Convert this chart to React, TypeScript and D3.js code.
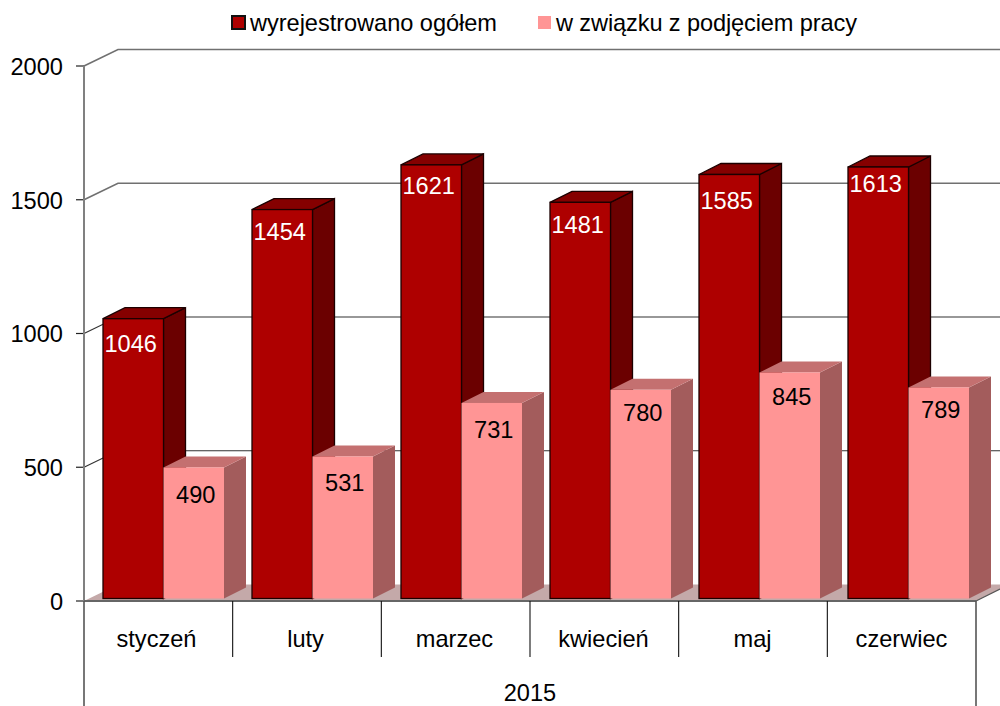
import React from "react";
import { scaleBand, scaleLinear } from "d3";

const width = 1000;
const height = 706;

const months = ["styczeń", "luty", "marzec", "kwiecień", "maj", "czerwiec"];
const seriesNames = ["wyrejestrowano ogółem", "w związku z podjęciem pracy"];
const registered = [1046, 1454, 1621, 1481, 1585, 1613];
const employed = [490, 531, 731, 780, 845, 789];
const yearLabel = "2015";
const yTicks = [0, 500, 1000, 1500, 2000];

// label offsets below the bar top, the original labels are not evenly placed
const registeredLabelDrop = [25, 22, 21, 22, 26, 17];
const employedLabelDrop = [27, 26, 27, 23, 24, 22];

const font = "'Liberation Sans', Arial, sans-serif";
const fontSize = 23.6;

const left = 84;
const right = 976;
const floorY = 601;
const topY = 66;

// depth of the chart box and of the bars
const depthX = 34;
const depthY = -16.5;
const barDepthX = 22;
const barDepthY = -11;
const barInsetY = 2.5;

const xScale = scaleBand<string>().domain(months).range([left, right]);
// the bars run on a slightly wider pitch than the category cells
const barScale = scaleBand<string>().domain(months).range([103, 997]);
const seriesScale = scaleBand<string>().domain(seriesNames).range([0, 121]);
const yScale = scaleLinear().domain([0, 2000]).range([floorY, topY]);

const colors = [
  { front: "#ae0000", side: "#6b0000", top: "#850000", stroke: "#1c0000", strokeWidth: 1.3, label: "#ffffff", labelDx: -2.5 },
  { front: "#ff9595", side: "#a35c5c", top: "#c47070", stroke: "none", strokeWidth: 0, label: "#000000", labelDx: 2 },
];

const Bar = ({ x, value, w, c, drop }) => {
  const y0 = floorY - barInsetY;
  const y1 = yScale(value) - barInsetY;
  const x1 = x + w;
  const line = { stroke: c.stroke, strokeWidth: c.strokeWidth };
  return (
    <g>
      <path
        d={`M${x1},${y1}L${x1 + barDepthX},${y1 + barDepthY}L${x1 + barDepthX},${y0 + barDepthY}L${x1},${y0}Z`}
        fill={c.side}
        {...line}
      />
      <path
        d={`M${x},${y1}L${x + barDepthX},${y1 + barDepthY}L${x1 + barDepthX},${y1 + barDepthY}L${x1},${y1}Z`}
        fill={c.top}
        {...line}
      />
      <rect x={x} y={y1} width={w} height={y0 - y1} fill={c.front} {...line} />
      <text
        x={x + w / 2 + c.labelDx}
        y={y1 + drop}
        dy=".35em"
        textAnchor="middle"
        fontSize={fontSize}
        fill={c.label}
      >
        {value}
      </text>
    </g>
  );
};

export default function App() {
  const bandW = seriesScale.bandwidth();
  return (
    <svg
      width={width}
      height={height}
      style={{ position: "absolute", left: 0, top: 0, fontFamily: font }}
    >
      <rect width={width} height={height} fill="#fff" />

      {/*floor*/}
      <path
        d={`M${left},${floorY}L${left + depthX},${floorY + depthY}L${right + depthX},${floorY + depthY}L${right},${floorY}Z`}
        fill="#c4a9a9"
      />

      {/*grid lines*/}
      {yTicks.map((t) => (
        <g key={t}>
          {t > 0 && (
            <path
              d={`M${left},${yScale(t)}L${left + depthX},${yScale(t) + depthY}L${width},${yScale(t) + depthY}`}
              fill="none"
              stroke={t > 1000 ? "#707070" : "#333"}
              strokeWidth={t > 1000 ? 1.6 : 1.2}
            />
          )}
          <line x1={left - 8} x2={left} y1={yScale(t)} y2={yScale(t)} stroke="#222" strokeWidth={1.2} />
          <text x={63} y={yScale(t) + 0.7} dy=".35em" textAnchor="end" fontSize={fontSize}>
            {t}
          </text>
        </g>
      ))}

      {/*left wall edge*/}
      <line x1={left} x2={left} y1={topY} y2={floorY} stroke="#808080" strokeWidth={2} />

      {/*bars*/}
      {months.map((m, i) => (
        <g key={m}>
          <Bar
            x={barScale(m) + seriesScale(seriesNames[0])}
            value={registered[i]}
            w={bandW}
            c={colors[0]}
            drop={registeredLabelDrop[i]}
          />
          <Bar
            x={barScale(m) + seriesScale(seriesNames[1])}
            value={employed[i]}
            w={bandW}
            c={colors[1]}
            drop={employedLabelDrop[i]}
          />
        </g>
      ))}

      {/*x axis*/}
      <line x1={left} x2={right} y1={floorY} y2={floorY} stroke="#666" strokeWidth={2} />
      <line x1={right} x2={right + 24} y1={floorY} y2={floorY - 12} stroke="#555" strokeWidth={1.2} />
      {months.map((m) => (
        <text
          key={m}
          x={barScale(m) + barScale.bandwidth() / 2 - 21}
          y={638.5}
          dy=".35em"
          textAnchor="middle"
          fontSize={fontSize}
        >
          {m}
        </text>
      ))}
      {months.slice(1).map((m) => (
        <line key={m} x1={xScale(m)} x2={xScale(m)} y1={floorY} y2={657} stroke="#111" strokeWidth={1.1} />
      ))}
      <line x1={left} x2={left} y1={floorY} y2={height} stroke="#555" strokeWidth={1.6} />
      <line x1={right} x2={right} y1={floorY} y2={height} stroke="#555" strokeWidth={1.6} />
      <text x={530} y={692.5} dy=".35em" textAnchor="middle" fontSize={fontSize}>
        {yearLabel}
      </text>

      {/*legend*/}
      <rect x={232} y={16} width={13} height={13} fill={colors[0].front} stroke="#111" strokeWidth={2} />
      <text x={250} y={23} dy=".35em" fontSize={fontSize} textLength={247}>
        {seriesNames[0]}
      </text>
      <rect x={538} y={16} width={13} height={13} fill={colors[1].front} />
      <text x={556} y={23} dy=".35em" fontSize={fontSize} textLength={301}>
        {seriesNames[1]}
      </text>
    </svg>
  );
}
